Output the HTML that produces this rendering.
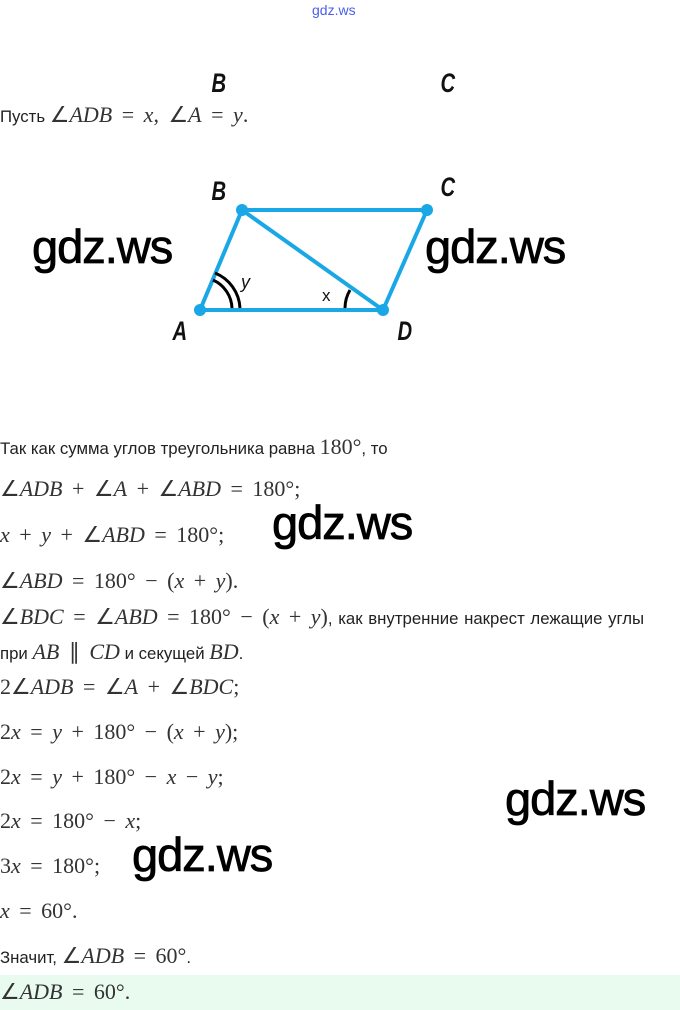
<!DOCTYPE html>
<html><head><meta charset="utf-8"><style>
body{margin:0;width:680px;height:1010px;background:#fff;position:relative;overflow:hidden;font-family:"Liberation Sans",sans-serif;color:#222}
.t{position:absolute;left:0;white-space:nowrap;font-size:16.8px;line-height:22px}
.m{font-family:"Liberation Serif",serif;font-size:22px;color:#333;word-spacing:4px}
.i{font-style:italic}
.wm{position:absolute;font-family:"Liberation Sans",sans-serif;font-size:47px;color:#000;line-height:50px;letter-spacing:-1px;-webkit-text-stroke:0.8px #000}
.lb{position:absolute;font-family:"Liberation Sans",sans-serif;font-weight:bold;font-style:italic;font-size:27px;color:#111;transform:scaleX(0.75)}
</style></head><body>
<div style="position:absolute;left:312px;top:2px;font-size:14px;color:#4a5ee8">gdz.ws</div>
<div class="lb" style="left:209px;top:68px">B</div>
<div class="lb" style="left:438px;top:68px">C</div>
<div class="t" style="top:104px">Пусть <span class="m"><span>∠</span><span class="i">ADB</span> = <span class="i">x</span>, ∠<span class="i">A</span> = <span class="i">y</span>.</span></div>
<svg style="position:absolute;left:0;top:0" width="680" height="360">
<g stroke="#1aa7e6" stroke-width="4" fill="none" stroke-linejoin="round">
<polygon points="200,310 242,210 427,210 383,310"/>
<line x1="242" y1="210" x2="383" y2="310"/>
</g>
<g fill="#1aa7e6"><circle cx="200" cy="310" r="6"/><circle cx="242" cy="210" r="6"/><circle cx="427" cy="210" r="6"/><circle cx="383" cy="310" r="6"/></g>
<g stroke="#000" stroke-width="3" fill="none">
<path d="M213,280 A32,32 0 0 1 232,308"/>
<path d="M215,273 A40,40 0 0 1 240,308"/>
<path d="M350,290 A36,36 0 0 0 345,308"/>
</g>
<text x="241" y="288" font-family="Liberation Sans" font-style="italic" font-size="18" fill="#111">y</text>
<text x="322" y="301" font-family="Liberation Sans" font-size="17" fill="#111">x</text>
</svg>
<div class="lb" style="left:209px;top:176px">B</div>
<div class="lb" style="left:438px;top:172px">C</div>
<div class="lb" style="left:170px;top:316px">A</div>
<div class="lb" style="left:395px;top:316px">D</div>
<div class="wm" style="left:32px;top:222px">gdz.ws</div>
<div class="wm" style="left:425px;top:222px">gdz.ws</div>
<div class="wm" style="left:272px;top:498px">gdz.ws</div>
<div class="wm" style="left:505px;top:774px">gdz.ws</div>
<div class="wm" style="left:132px;top:830px">gdz.ws</div>
<div class="t" style="top:436px">Так как сумма углов треугольника равна <span class="m">180°</span>, то</div>
<div class="t m" style="top:478px">∠<span class="i">ADB</span> + ∠<span class="i">A</span> + ∠<span class="i">ABD</span> = 180°;</div>
<div class="t m" style="top:524px"><span class="i">x</span> + <span class="i">y</span> + ∠<span class="i">ABD</span> = 180°;</div>
<div class="t m" style="top:570px">∠<span class="i">ABD</span> = 180° − (<span class="i">x</span> + <span class="i">y</span>).</div>
<div class="t" style="top:606px;word-spacing:1px"><span class="m">∠<span class="i">BDC</span> = ∠<span class="i">ABD</span> = 180° − (<span class="i">x</span> + <span class="i">y</span>)</span>, как внутренние накрест лежащие углы</div>
<div class="t" style="top:641px">при <span class="m"><span class="i">AB</span> ∥ <span class="i">CD</span></span> и секущей <span class="m i">BD</span>.</div>
<div class="t m" style="top:676px">2∠<span class="i">ADB</span> = ∠<span class="i">A</span> + ∠<span class="i">BDC</span>;</div>
<div class="t m" style="top:721px">2<span class="i">x</span> = <span class="i">y</span> + 180° − (<span class="i">x</span> + <span class="i">y</span>);</div>
<div class="t m" style="top:766px">2<span class="i">x</span> = <span class="i">y</span> + 180° − <span class="i">x</span> − <span class="i">y</span>;</div>
<div class="t m" style="top:810px">2<span class="i">x</span> = 180° − <span class="i">x</span>;</div>
<div class="t m" style="top:855px">3<span class="i">x</span> = 180°;</div>
<div class="t m" style="top:900px"><span class="i">x</span> = 60°.</div>
<div class="t" style="top:945px">Значит, <span class="m">∠<span class="i">ADB</span> = 60°</span>.</div>
<div style="position:absolute;left:0;top:975px;width:680px;height:35px;background:#e8fbee"></div>
<div class="t m" style="top:981px;font-size:22px">∠<span class="i">ADB</span> = 60°.</div>
</body></html>
